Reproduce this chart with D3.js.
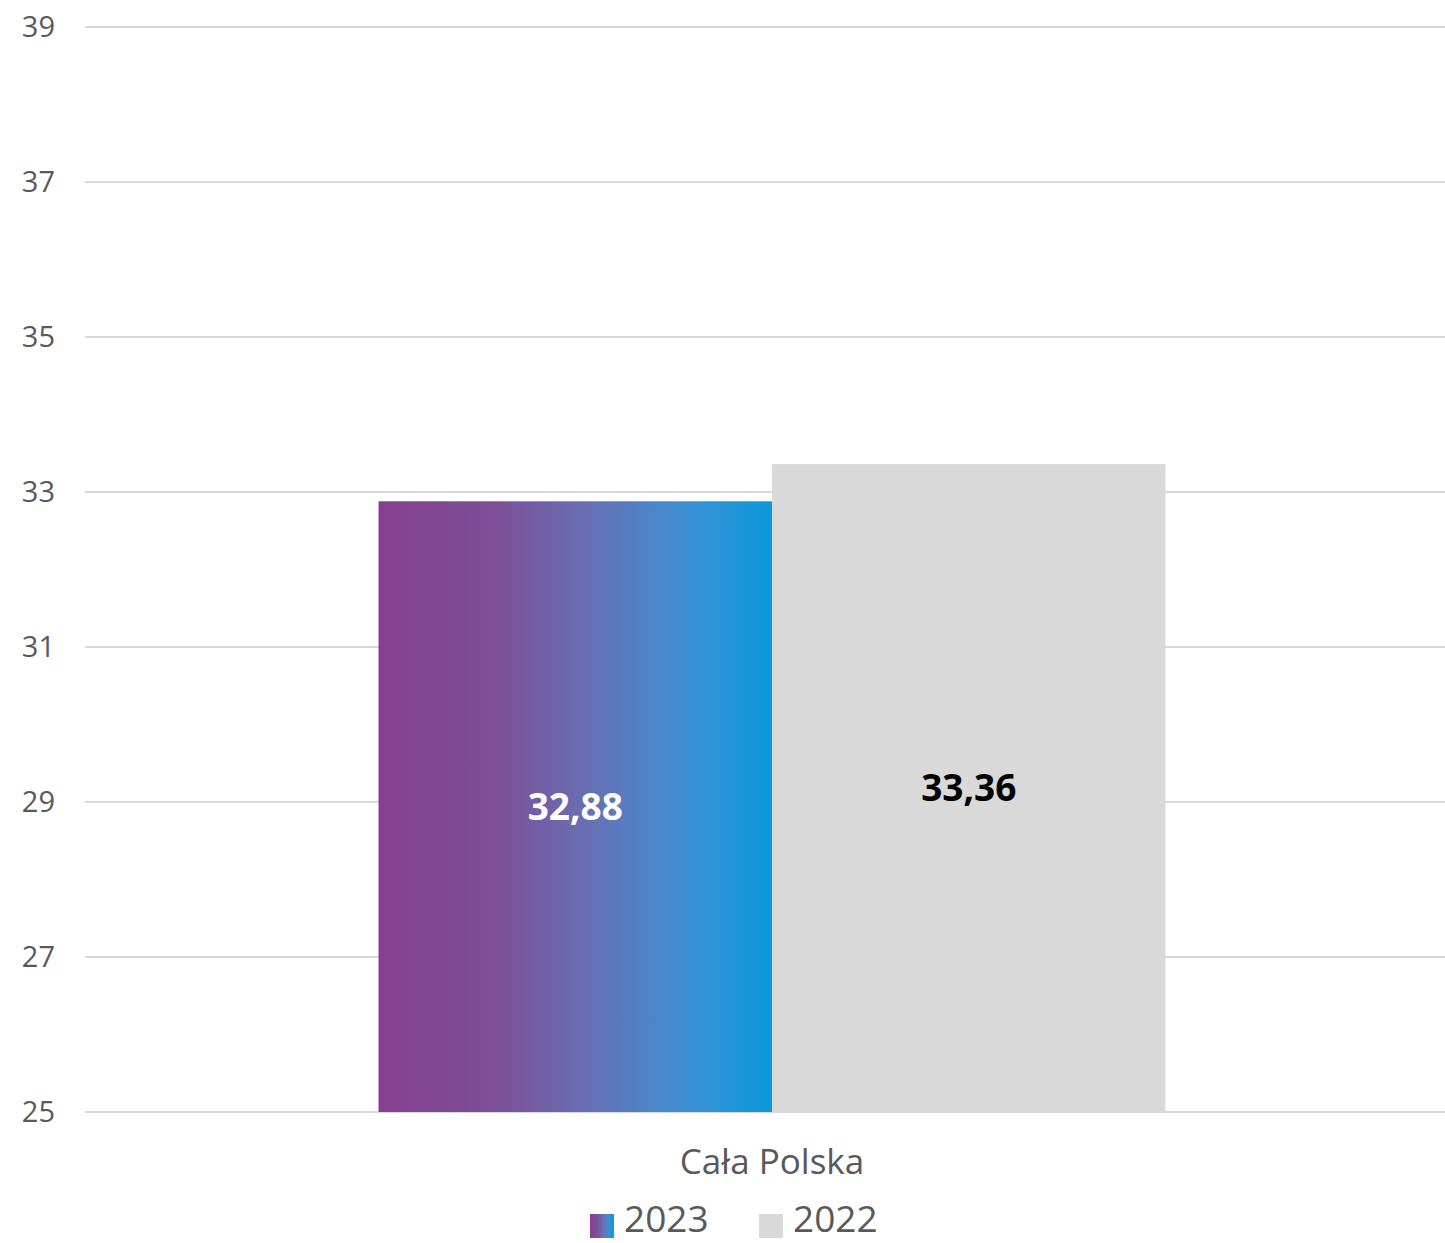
<!DOCTYPE html>
<html>
<head>
<meta charset="utf-8">
<script src="https://cdn.jsdelivr.net/npm/d3@7"></script>
<style>
  body { margin: 0; background: #fff; }
  text { font-family: "Open Sans", "Noto Sans", sans-serif; }
</style>
</head>
<body>
<svg id="chart" width="1445" height="1243"></svg>
<script>
const categories = ["Cała Polska"];
const seriesNames = ["2023", "2022"];
const values2023 = [32.88];
const values2022 = [33.36];
const yTicks = [25, 27, 29, 31, 33, 35, 37, 39];

const svg = d3.select("#chart");

// gradient for 2023 bars (purple -> blue)
const gradStops = [
  [0, "#853f8e"], [0.3, "#7d4f98"], [0.55, "#6672b6"],
  [0.78, "#3d8fd3"], [1, "#0a99db"]
];
const grad = svg.append("defs").append("linearGradient").attr("id", "g2023")
  .attr("x1", "0%").attr("x2", "100%").attr("y1", "0%").attr("y2", "0%");
grad.selectAll("stop").data(gradStops).join("stop")
  .attr("offset", d => d[0]).attr("stop-color", d => d[1]);

const plotLeft = 85, plotRight = 1459, plotTop = 27, plotBottom = 1112;

const y = d3.scaleLinear().domain([25, 39]).range([plotBottom, plotTop]);
const x0 = d3.scaleBand().domain(categories).range([plotLeft, plotRight]).paddingOuter(0.373).paddingInner(0);
const x1 = d3.scaleBand().domain(seriesNames).range([0, x0.bandwidth()]).padding(0);

// grid lines
svg.append("g").selectAll("line").data(yTicks).join("line")
  .attr("x1", plotLeft).attr("x2", 1445)
  .attr("y1", d => y(d)).attr("y2", d => y(d))
  .attr("stroke", "#d9d9d9").attr("stroke-width", 2);

// y tick labels
svg.append("g").selectAll("text").data(yTicks).join("text")
  .attr("x", 55).attr("y", d => y(d)).attr("dy", "0.36em")
  .attr("text-anchor", "end")
  .attr("fill", "#595959").attr("font-size", 29)
  .text(d => d);

const rows = categories.map((c, i) => ({ cat: c, vals: [values2023[i], values2022[i]] }));

const fills = { "2023": "url(#g2023)", "2022": "#d9d9d9" };
const labelColor = { "2023": "#ffffff", "2022": "#000000" };

const groups = svg.append("g").selectAll("g").data(rows).join("g")
  .attr("transform", d => `translate(${x0(d.cat)},0)`);

const bars = groups.selectAll("g").data(d => seriesNames.map((s, j) => ({ s, v: d.vals[j] }))).join("g");

bars.append("rect")
  .attr("x", d => x1(d.s)).attr("width", x1.bandwidth())
  .attr("y", d => y(d.v)).attr("height", d => y(25) - y(d.v))
  .attr("fill", d => fills[d.s]);

bars.append("text")
  .attr("x", d => x1(d.s) + x1.bandwidth() / 2)
  .attr("y", d => (y(d.v) + y(25)) / 2).attr("dy", "0.36em")
  .attr("text-anchor", "middle")
  .attr("font-size", 37).attr("font-weight", 700)
  .attr("fill", d => labelColor[d.s])
  .text(d => d3.format(".2f")(d.v).replace(".", ","));

// category label
svg.append("g").selectAll("text").data(categories).join("text")
  .attr("x", d => x0(d) + x0.bandwidth() / 2).attr("y", 1161).attr("dy", "0.36em")
  .attr("text-anchor", "middle").attr("fill", "#595959").attr("font-size", 35)
  .text(d => d);

// legend
const legendX = [590, 759];
const leg = svg.append("g").selectAll("g").data(seriesNames).join("g")
  .attr("transform", (d, i) => `translate(${legendX[i]},1214)`);
leg.append("rect").attr("width", 24).attr("height", 24).attr("fill", d => fills[d]);
leg.append("text").attr("x", 34).attr("y", 18)
  .attr("fill", "#595959").attr("font-size", 37).text(d => d);
</script>
</body>
</html>
